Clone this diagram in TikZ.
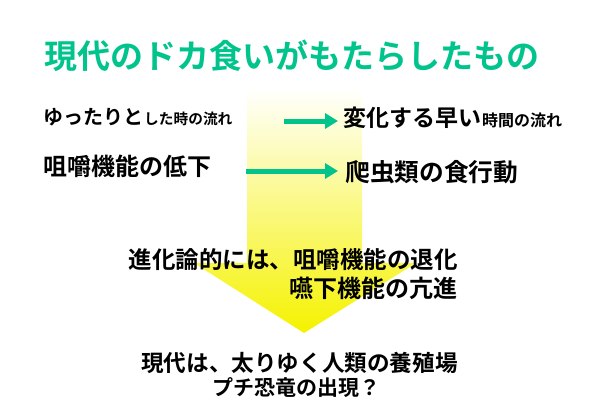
\documentclass[tikz,border=0pt]{standalone}
\usepackage{fontspec}
\setmainfont{Noto Sans CJK JP}[BoldFont={* Bold}]
\usetikzlibrary{arrows.meta,positioning,calc}
\usepackage{xcolor}
\definecolor{dokagreen}{RGB}{0,196,140}
\definecolor{arrowyellow}{RGB}{245,242,0}

\begin{document}
\begin{tikzpicture}[x=1pt, y=-1pt, thick,
        txt/.style={inner sep=0pt, font=\bfseries\fontsize{23.5}{28}\selectfont},
        small/.style={inner sep=0pt, font=\bfseries\fontsize{15}{18}\selectfont},
        heading/.style={inner sep=0pt, text=dokagreen, font=\bfseries\fontsize{33}{38}\selectfont},
        flow/.style={-{Triangle[length=13pt,width=15pt]}, line width=5pt, draw=dokagreen}]

        \useasboundingbox (0,0) rectangle (600,415);

        % big shaded arrow
        \shade[top color=white, middle color=arrowyellow!45, bottom color=arrowyellow]
            (247,88) -- (362,88) -- (362,263) -- (416,263) -- (304,333)
            -- (194,263) -- (247,263) -- cycle;

        \node [heading, anchor=west] (title) at (44,56) {現代のドカ食いがもたらしたもの};

        \node [txt, anchor=west, font=\bfseries\fontsize{20}{24}\selectfont] (slow) at (43,117) {ゆったりと};
        \node [small, anchor=base west, font=\bfseries\fontsize{14.7}{18}\selectfont] (slowrest) at (slow.base east) {した時の流れ};

        \node [txt, anchor=west, font=\bfseries\fontsize{23}{28}\selectfont] (fast) at (343,118) {変化する早い};
        \node [small, anchor=base west, font=\bfseries\fontsize{16}{19}\selectfont] (fastrest) at (fast.base east) {時間の流れ};

        \node [txt, anchor=west, font=\bfseries\fontsize{24}{29}\selectfont] (chew) at (43,166) {咀嚼機能の低下};
        \node [txt, anchor=west, font=\bfseries\fontsize{24.7}{29}\selectfont] (reptile) at (345,172) {爬虫類の食行動};

        \node [txt, anchor=east] (evo) at (458,260) {進化論的には、咀嚼機能の退化};
        \node [txt, anchor=east, font=\bfseries\fontsize{24}{29}\selectfont] (swallow) at (458,288) {嚥下機能の亢進};

        \node [txt, anchor=east, font=\bfseries\fontsize{22.6}{27}\selectfont] (farm) at (458,363) {現代は、太りゆく人類の養殖場};
        \node [txt, font=\bfseries\fontsize{21}{25}\selectfont] (dino) at (296,388) {プチ恐竜の出現？};

        \draw[flow, shorten <=51pt, shorten >=5pt] ([yshift=-3pt]fast.west -| slowrest.east) -- ([yshift=-3pt]fast.west);
        \draw[flow, shorten <=34pt, shorten >=7pt] ([yshift=1pt]reptile.west -| chew.east) -- ([yshift=1pt]reptile.west);
    \end{tikzpicture}
\end{document}
